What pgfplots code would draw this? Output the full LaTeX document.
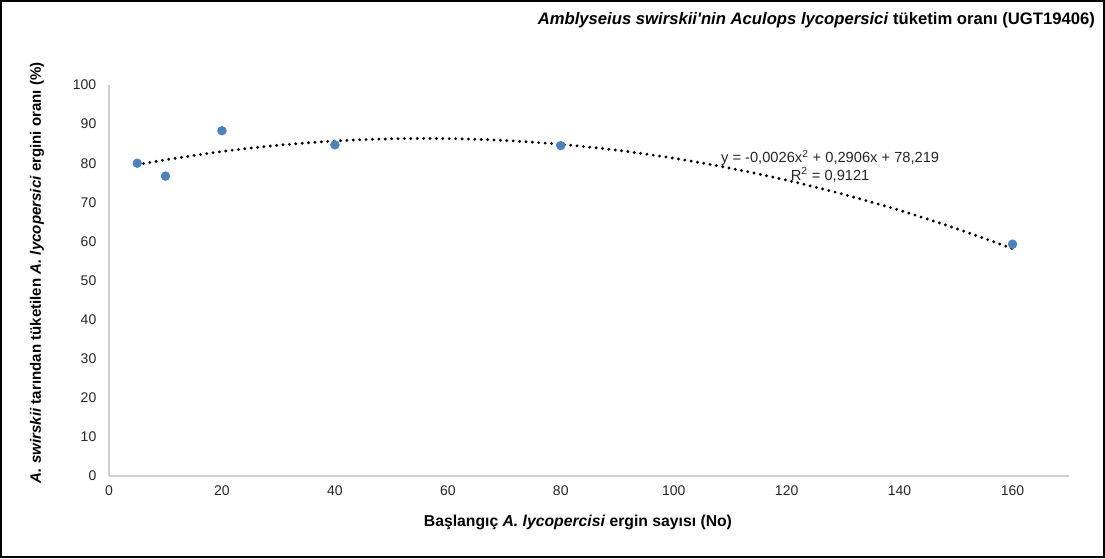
\documentclass[border=0pt]{standalone}
\usepackage{pgfplots}
\pgfplotsset{compat=1.18}
\usepackage{fontspec}
\setmainfont{Liberation Sans}
\definecolor{ptblue}{HTML}{4F81BD}
\definecolor{axgray}{HTML}{D0D0D0}
\begin{document}
\begin{tikzpicture}
\begin{axis}[
  scale only axis,
  width=720pt, height=293.25pt,
  xmin=0, xmax=170, ymin=0, ymax=100,
  xtick={0,20,...,160}, ytick={0,10,...,100},
  axis x line=bottom, axis y line=left,
  axis line style={axgray, line width=0.9pt, -},
  major tick length=0pt,
  /pgf/number format/assume math mode=true,
  tick label style={font=\fontsize{10.5}{12}\selectfont, text=black!85},
  xticklabel style={yshift=-4pt},
  yticklabel style={xshift=-6pt},
  xlabel={\textbf{Başlangıç \textit{A. lycopercisi} ergin sayısı (No)}},
  ylabel={\textbf{\textit{A. swirskii} tarından tüketilen \textit{A. lycopersici} ergini oranı (\%)}},
  xlabel style={font=\fontsize{11.8}{13}\selectfont, at={(axis description cs:0.4885,-0.12)}, anchor=center},
  ylabel style={font=\fontsize{11.3}{13}\selectfont, at={(axis description cs:-0.075,0.52)}, anchor=center},
  clip=false,
]
\addplot[only marks, mark=*, mark size=3.3pt, mark options={fill=ptblue, draw=ptblue}]
  coordinates {(5,80) (10,76.7) (20,88.3) (40,84.7) (80,84.5) (160,59.3)};
\addplot[black, line width=2.4pt, dash pattern=on 0pt off 4.8pt, line cap=round, smooth]
  coordinates {(5,79.607) (10,80.865) (20,82.991) (30,84.597) (40,85.683) (50,86.249)
   (60,86.295) (70,85.821) (80,84.827) (90,83.313) (100,81.279) (110,78.725)
   (120,75.651) (130,72.057) (140,67.943) (150,63.309) (160,58.155)};
\node[align=center, font=\fontsize{11}{13}\selectfont, text=black!85] at (axis cs:127.7,79.2)
  {y = -0,0026x\textsuperscript{2} + 0,2906x + 78,219\\R\textsuperscript{2} = 0,9121};
\end{axis}
\node[anchor=east, font=\fontsize{12.5}{14}\selectfont\bfseries] at (743pt,342pt)
  {\textit{Amblyseius swirskii\textquotesingle nin Aculops lycopersici} tüketim oranı (UGT19406)};
\draw[line width=1.5pt] (-81pt,-60.75pt) rectangle (746.25pt,356.25pt);
\end{tikzpicture}
\end{document}
